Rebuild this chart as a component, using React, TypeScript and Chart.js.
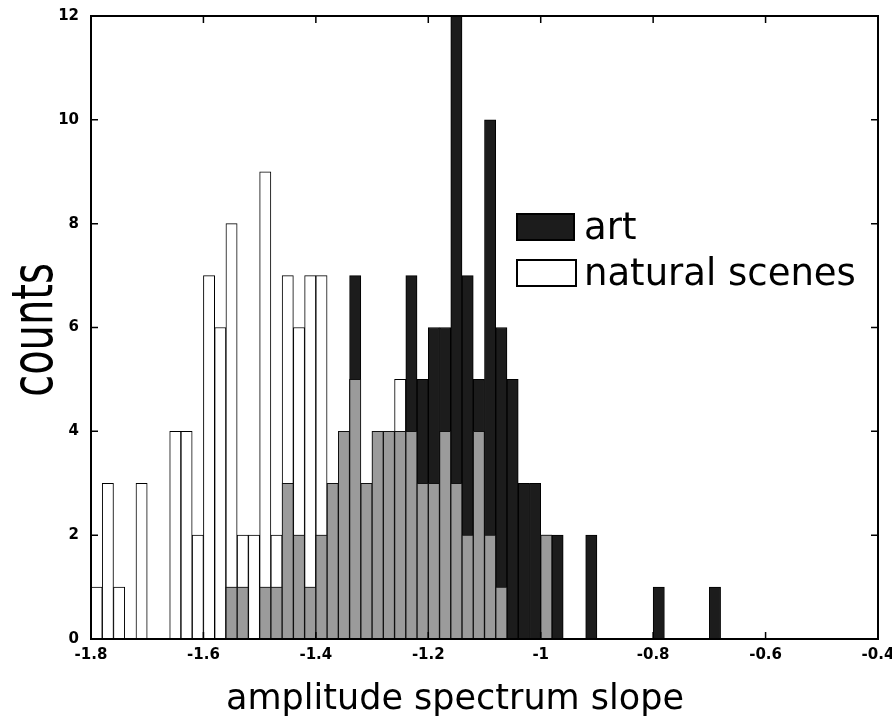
import React, { useEffect, useRef } from "react";
import { Chart, registerables } from "chart.js";

Chart.register(...registerables);

// Histogram bin centres (bin width 0.02)
const binCenters = [
  -1.79, -1.77, -1.75, -1.73, -1.71, -1.69, -1.67, -1.65, -1.63, -1.61,
  -1.59, -1.57, -1.55, -1.53, -1.51, -1.49, -1.47, -1.45, -1.43, -1.41,
  -1.39, -1.37, -1.35, -1.33, -1.31, -1.29, -1.27, -1.25, -1.23, -1.21,
  -1.19, -1.17, -1.15, -1.13, -1.11, -1.09, -1.07, -1.05, -1.03, -1.01,
  -0.99, -0.97, -0.95, -0.93, -0.91, -0.89, -0.87, -0.85, -0.83, -0.81,
  -0.79, -0.77, -0.75, -0.73, -0.71, -0.69, -0.67, -0.65, -0.63, -0.61,
  -0.59, -0.57, -0.55, -0.53, -0.51, -0.49, -0.47, -0.45, -0.43, -0.41,
];

const artCounts = [
  0, 0, 0, 0, 0, 0, 0, 0, 0, 0,
  0, 0, 1, 1, 0, 1, 1, 3, 2, 1,
  2, 3, 4, 7, 3, 4, 4, 4, 7, 5,
  6, 6, 12, 7, 5, 10, 6, 5, 3, 3,
  2, 2, 0, 0, 2, 0, 0, 0, 0, 0,
  1, 0, 0, 0, 0, 1, 0, 0, 0, 0,
  0, 0, 0, 0, 0, 0, 0, 0, 0, 0,
];

const naturalCounts = [
  1, 3, 1, 0, 3, 0, 0, 4, 4, 2,
  7, 6, 8, 2, 2, 9, 2, 7, 6, 7,
  7, 3, 4, 5, 3, 4, 4, 5, 4, 3,
  3, 4, 3, 2, 4, 2, 1, 0, 0, 0,
  2, 0, 0, 0, 0, 0, 0, 0, 0, 0,
  0, 0, 0, 0, 0, 0, 0, 0, 0, 0,
  0, 0, 0, 0, 0, 0, 0, 0, 0, 0,
];

const xTickValues = [-1.8, -1.6, -1.4, -1.2, -1.0, -0.8, -0.6, -0.4];
const xTickLabels = ["-1.8", "-1.6", "-1.4", "-1.2", "-1", "-0.8", "-0.6", "-0.4"];
const yTickValues = [0, 2, 4, 6, 8, 10, 12];
const yTickLabels = ["0", "2", "4", "6", "8", "10", "12"];

const seriesNames = ["art", "natural scenes"];
const xTitle = "amplitude spectrum slope";
const yTitle = "counts";

const overlapCounts = artCounts.map((a, i) => Math.min(a, naturalCounts[i]));

const decorPlugin = {
  id: "decor",
  afterDraw(chart: any) {
    const { ctx, chartArea, scales } = chart;
    const xs = scales.x;
    const ys = scales.y;
    ctx.save();
    ctx.strokeStyle = "#000";
    ctx.lineWidth = 2;
    ctx.strokeRect(chartArea.left, chartArea.top, chartArea.right - chartArea.left, chartArea.bottom - chartArea.top);
    // inward ticks
    const tl = 7;
    ctx.lineWidth = 1.5;
    ctx.beginPath();
    xTickValues.forEach((v) => {
      const px = xs.getPixelForValue(v);
      ctx.moveTo(px, chartArea.bottom);
      ctx.lineTo(px, chartArea.bottom - tl);
      ctx.moveTo(px, chartArea.top);
      ctx.lineTo(px, chartArea.top + tl);
    });
    yTickValues.forEach((v) => {
      const py = ys.getPixelForValue(v);
      ctx.moveTo(chartArea.left, py);
      ctx.lineTo(chartArea.left + tl, py);
      ctx.moveTo(chartArea.right, py);
      ctx.lineTo(chartArea.right - tl, py);
    });
    ctx.stroke();

    // legend
    ctx.lineWidth = 2;
    ctx.fillStyle = "#1c1c1c";
    ctx.fillRect(517, 214, 57, 26);
    ctx.strokeRect(517, 214, 57, 26);
    ctx.fillStyle = "#fff";
    ctx.fillRect(517, 260, 59, 26);
    ctx.strokeRect(517, 260, 59, 26);
    ctx.fillStyle = "#000";
    ctx.font = "37px 'DejaVu Sans'";
    ctx.textAlign = "left";
    ctx.textBaseline = "alphabetic";
    ctx.fillText(seriesNames[0], 584, 239);
    ctx.fillText(seriesNames[1], 584, 285);

    // x title
    ctx.font = "35px 'DejaVu Sans'";
    ctx.textAlign = "center";
    ctx.fillText(xTitle, 455, 709);

    // y title
    ctx.save();
    ctx.translate(52, 330);
    ctx.rotate(-Math.PI / 2);
    ctx.scale(1, 1.4);
    ctx.font = "40px 'DejaVu Sans'";
    ctx.textAlign = "center";
    ctx.textBaseline = "alphabetic";
    ctx.fillText(yTitle, 0, 0);
    ctx.restore();

    ctx.restore();
  },
};

export default function App() {
  const canvasRef = useRef<HTMLCanvasElement>(null);

  useEffect(() => {
    if (!canvasRef.current) return;
    const mk = (arr: number[]) => binCenters.map((x, i) => ({ x, y: arr[i] }));
    const common = {
      grouped: false,
      barPercentage: 1,
      categoryPercentage: 1,
      borderWidth: 1,
    };
    const chart = new Chart(canvasRef.current, {
      type: "bar",
      data: {
        datasets: [
          { label: "overlap", data: mk(overlapCounts), backgroundColor: "#9b9b9b", borderColor: "#111", ...common },
          { label: seriesNames[0], data: mk(artCounts), backgroundColor: "#1c1c1c", borderColor: "#000", ...common },
          { label: seriesNames[1], data: mk(naturalCounts), backgroundColor: "#ffffff", borderColor: "#000", ...common },
        ] as any,
      },
      options: {
        animation: false,
        responsive: true,
        maintainAspectRatio: false,
        layout: { padding: { top: 16, right: 14, bottom: 0, left: 0 } },
        plugins: { legend: { display: false }, tooltip: { enabled: false } },
        scales: {
          x: {
            type: "linear",
            offset: false,
            min: -1.8,
            max: -0.4,
            grid: { display: false, drawTicks: false, offset: false },
            border: { display: false },
            afterBuildTicks: (scale: any) => {
              scale.ticks = xTickValues.map((value) => ({ value }));
            },
            afterFit: (scale: any) => {
              scale.height = 81;
              scale.paddingLeft = 0;
              scale.paddingRight = 0;
            },
            ticks: {
              padding: 7,
              maxRotation: 0,
              autoSkip: false,
              color: "#000",
              font: { family: "'DejaVu Sans'", size: 15, weight: "bold" },
              callback: (_v: any, i: number) => xTickLabels[i],
            },
          },
          y: {
            type: "linear",
            min: 0,
            max: 12,
            grid: { display: false, drawTicks: false },
            border: { display: false },
            afterBuildTicks: (scale: any) => {
              scale.ticks = yTickValues.map((value) => ({ value }));
            },
            afterFit: (scale: any) => {
              scale.width = 91;
              scale.paddingTop = 0;
              scale.paddingBottom = 0;
            },
            ticks: {
              padding: 12,
              autoSkip: false,
              color: "#000",
              font: { family: "'DejaVu Sans'", size: 15, weight: "bold" },
              callback: (_v: any, i: number) => yTickLabels[i],
            },
          },
        },
      } as any,
      plugins: [decorPlugin],
    });
    return () => chart.destroy();
  }, []);

  return (
    <div style={{ position: "absolute", left: 0, top: 0, width: 892, height: 720, background: "#fff" }}>
      <canvas ref={canvasRef} />
    </div>
  );
}
